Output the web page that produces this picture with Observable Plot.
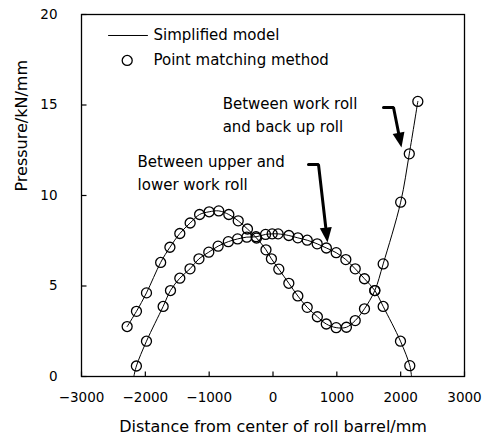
<!DOCTYPE html>
<html>
<head>
<meta charset="utf-8">
<script src="https://cdn.jsdelivr.net/npm/d3@7"></script>
<script src="https://cdn.jsdelivr.net/npm/@observablehq/plot@0.6"></script>
<style>
  body { margin: 0; background: #fff; }
</style>
</head>
<body>
<div id="chart"></div>
<script>
// Axis ticks
const xTicks = [-3000, -2000, -1000, 0, 1000, 2000, 3000];
const yTicks = [0, 5, 10, 15, 20];

// Point matching method: between work roll and back up roll
const burX = [-2285, -2139, -1982, -1760, -1615, -1460, -1298, -1150, -1000, -850, -692, -545, -400, -258, -110, -25, 91, 248, 389, 536, 695, 835, 990, 1150, 1288, 1433, 1595, 1726, 2000, 2135, 2269];
const burY = [2.76, 3.6, 4.62, 6.3, 7.14, 7.9, 8.48, 8.95, 9.1, 9.15, 8.95, 8.6, 8.15, 7.65, 7.0, 6.5, 5.93, 5.15, 4.45, 3.82, 3.3, 2.9, 2.7, 2.72, 3.09, 3.74, 4.75, 6.22, 9.63, 12.3, 15.2];

// Point matching method: between upper and lower work roll
const wrX = [-2140, -1982, -1721, -1606, -1460, -1300, -1160, -1006, -860, -700, -555, -410, -266, -117, -13, 80, 248, 389, 536, 692, 836, 990, 1141, 1288, 1433, 1595, 1726, 1997, 2143];
const wrY = [0.58, 1.95, 3.87, 4.75, 5.43, 5.95, 6.5, 6.87, 7.2, 7.45, 7.6, 7.7, 7.72, 7.85, 7.88, 7.88, 7.79, 7.66, 7.53, 7.33, 7.1, 6.84, 6.46, 5.95, 5.4, 4.75, 3.87, 1.95, 0.6];

// Simplified model line ends (where the work-roll curve meets zero)
const wrLineEndsX = [-2180, 2170];
const wrLineEndsY = [0, 0];

// Texts
const legendLabels = ["Simplified model", "Point matching method"];
const noteBur = ["Between work roll", "and back up roll"];
const noteWr = ["Between upper and", "lower work roll"];
const xTitle = "Distance from center of roll barrel/mm";
const yTitle = "Pressure/kN/mm";

// Annotation anchors in data units
const legendLineX = [-2577, -1966], legendLineY = 18.84;
const legendDot = [-2284, 17.46];
const legendTextX = -1872, legendTextY = [18.84, 17.46];
const noteBurPos = [-789, [15.03, 13.76]];
const noteWrPos = [-2122, [11.82, 10.55]];
const arrowBur = [[1731, 14.86], [1888, 14.86], [2013, 12.65]];
const arrowWr = [[556, 11.71], [713, 11.71], [854, 7.40]];

// Build tables
const burPts = burX.map((x, i) => ({x, y: burY[i]}));
const wrPts = wrX.map((x, i) => ({x, y: wrY[i]}));
const wrLine = [{x: wrLineEndsX[0], y: wrLineEndsY[0]}, ...wrPts, {x: wrLineEndsX[1], y: wrLineEndsY[1]}];

const W = 492, H = 442;
const mL = 81, mR = 28, mT = 14, mB = 66;
const xDomain = [-3000, 3000], yDomain = [0, 20];
const kx = (W - mL - mR) / (xDomain[1] - xDomain[0]);
const ky = (H - mT - mB) / (yDomain[1] - yDomain[0]);
const tickLen = 5; // px, inward

function headAngle(pts) {
  const a = pts[pts.length - 2], b = pts[pts.length - 1];
  const dx = (b[0] - a[0]) * kx, dy = -(b[1] - a[1]) * ky;
  return Math.atan2(dx, -dy) * 180 / Math.PI;
}
const headSymbol = {
  draw(context) {
    context.moveTo(0, 0);
    context.lineTo(-6, 15);
    context.lineTo(6, 15);
    context.closePath();
  }
};
const heads = [
  {x: arrowBur[2][0], y: arrowBur[2][1], a: headAngle(arrowBur)},
  {x: arrowWr[2][0], y: arrowWr[2][1], a: headAngle(arrowWr)}
];
function shaft(pts) {
  const a = pts[pts.length - 2], b = pts[pts.length - 1];
  const t = 0.8;
  return [...pts.slice(0, -1), [a[0] + (b[0] - a[0]) * t, a[1] + (b[1] - a[1]) * t]];
}

const font = "DejaVu Sans";

const chart = Plot.plot({
  width: W, height: H,
  marginLeft: mL, marginRight: mR, marginTop: mT, marginBottom: mB,
  style: {fontFamily: font, fontSize: "13.5px", color: "black", background: "white"},
  x: {domain: xDomain},
  y: {domain: yDomain},
  marks: [
    Plot.axisX({ticks: xTicks, tickSize: 0, tickPadding: 16, label: null, fontSize: 13.5, tickFormat: d3.format("")}),
    Plot.axisY({ticks: yTicks, tickSize: 0, tickPadding: 24, label: null, fontSize: 13.5}),
    // inward tick marks
    Plot.link(xTicks, {x1: d => d, x2: d => d, y1: yDomain[0], y2: yDomain[0] + tickLen / ky, stroke: "black", strokeWidth: 1.2}),
    Plot.link(yTicks, {y1: d => d, y2: d => d, x1: xDomain[0], x2: xDomain[0] + tickLen / kx, stroke: "black", strokeWidth: 1.2}),
    Plot.line(burPts, {x: "x", y: "y", stroke: "black", strokeWidth: 1, curve: "catmull-rom"}),
    Plot.line(wrLine, {x: "x", y: "y", stroke: "black", strokeWidth: 1, curve: "catmull-rom"}),
    Plot.dot(burPts, {x: "x", y: "y", r: 5, stroke: "black", strokeWidth: 1.3, fill: "none"}),
    Plot.dot(wrPts, {x: "x", y: "y", r: 5, stroke: "black", strokeWidth: 1.3, fill: "none"}),
    // legend
    Plot.line(legendLineX.map(x => [x, legendLineY]), {stroke: "black", strokeWidth: 1}),
    Plot.dot([legendDot], {r: 5, stroke: "black", strokeWidth: 1.3, fill: "none"}),
    Plot.text(legendLabels, {x: () => legendTextX, y: (d, i) => legendTextY[i], text: d => d, textAnchor: "start", fontSize: 15}),
    // notes
    Plot.text(noteBur, {x: () => noteBurPos[0], y: (d, i) => noteBurPos[1][i], text: d => d, textAnchor: "start", fontSize: 15}),
    Plot.text(noteWr, {x: () => noteWrPos[0], y: (d, i) => noteWrPos[1][i], text: d => d, textAnchor: "start", fontSize: 15}),
    Plot.line(shaft(arrowBur), {stroke: "black", strokeWidth: 3, strokeLinejoin: "miter"}),
    Plot.line(shaft(arrowWr), {stroke: "black", strokeWidth: 3, strokeLinejoin: "miter"}),
    Plot.dot(heads, {x: "x", y: "y", rotate: "a", symbol: headSymbol, fill: "black", stroke: "none"}),
    // axis titles
    Plot.text([xTitle], {frameAnchor: "bottom", dy: 55, fontSize: 16, text: d => d}),
    Plot.text([yTitle], {frameAnchor: "left", rotate: -90, dx: -60, dy: -4, fontSize: 16, text: d => d}),
    Plot.frame({stroke: "black", strokeWidth: 1.3})
  ]
});
document.getElementById("chart").appendChild(chart);
</script>
</body>
</html>
